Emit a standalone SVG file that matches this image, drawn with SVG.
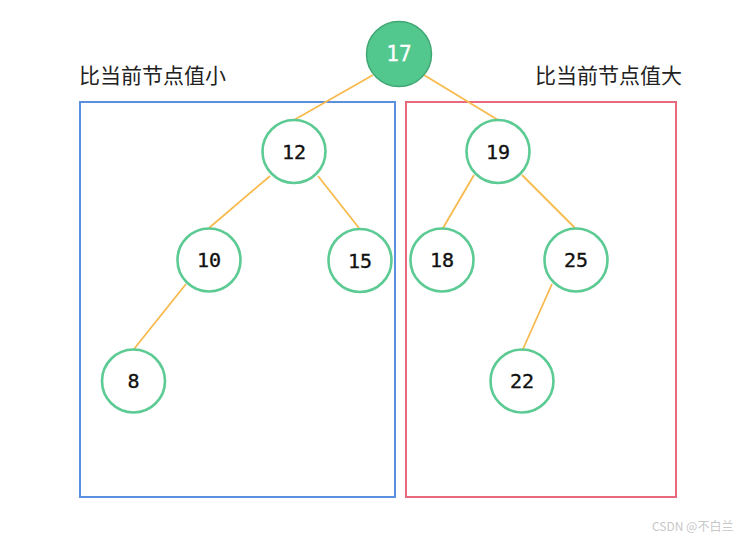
<svg xmlns="http://www.w3.org/2000/svg" width="756" height="540" viewBox="0 0 756 540">
<style>
.edge{stroke:#f8ba4e;stroke-width:1.8;fill:none}
.node circle{fill:#fff;stroke:#5ccb93;stroke-width:2.6}
.node text{font-family:"DejaVu Sans Mono","Liberation Mono",monospace;font-size:20px;fill:#111;stroke:#111;stroke-width:0.35;text-anchor:middle;dominant-baseline:central}
.lbl{font-family:"Noto Sans CJK SC","Noto Sans",sans-serif;font-size:21px;fill:#222}
</style>
<rect width="756" height="540" fill="#fff"/>
<rect x="80" y="102" width="315" height="395" fill="none" stroke="#5b8fdf" stroke-width="2"/>
<rect x="406" y="102" width="270" height="395" fill="none" stroke="#e8687c" stroke-width="2"/>
<text class="lbl" x="79" y="83">比当前节点值小</text>
<text class="lbl" x="682" y="83" text-anchor="end">比当前节点值大</text>
<g id="connectors">
<line class="edge" x1="373" y1="75" x2="294" y2="120"/>
<line class="edge" x1="424" y1="75" x2="498" y2="120"/>
<line class="edge" x1="270" y1="176" x2="209" y2="228"/>
<line class="edge" x1="318" y1="176" x2="359" y2="228"/>
<line class="edge" x1="186" y1="284" x2="134" y2="349"/>
<line class="edge" x1="474" y1="175" x2="443" y2="228"/>
<line class="edge" x1="522" y1="175" x2="575" y2="228"/>
<line class="edge" x1="552" y1="284" x2="523" y2="349"/>
</g>
<g id="n17"><circle cx="399" cy="54" r="32.5" fill="#53c88e" stroke="#3fa774" stroke-width="1.5"/><text x="399" y="54" font-family="DejaVu Sans Mono,monospace" font-size="21" fill="#fff" stroke="#fff" stroke-width="0.3" text-anchor="middle" dominant-baseline="central">17</text></g>
<g id="n12" class="node"><circle cx="294" cy="151.5" r="31.5"/><text x="294" y="151.5">12</text></g>
<g id="n19" class="node"><circle cx="498" cy="151.5" r="31.5"/><text x="498" y="151.5">19</text></g>
<g id="n10" class="node"><circle cx="209" cy="260" r="31.5"/><text x="209" y="260">10</text></g>
<g id="n15" class="node"><circle cx="360" cy="260.5" r="31.5"/><text x="360" y="260.5">15</text></g>
<g id="n18" class="node"><circle cx="442" cy="260" r="31.5"/><text x="442" y="260">18</text></g>
<g id="n25" class="node"><circle cx="576" cy="260" r="31.5"/><text x="576" y="260">25</text></g>
<g id="n8" class="node"><circle cx="133.5" cy="381" r="31.5"/><text x="133.5" y="381">8</text></g>
<g id="n22" class="node"><circle cx="522" cy="381" r="31.5"/><text x="522" y="381">22</text></g>
<text x="652" y="531" font-family="Noto Sans CJK SC,sans-serif" font-size="12" fill="#c8c8c8">CSDN @不白兰</text>
</svg>
